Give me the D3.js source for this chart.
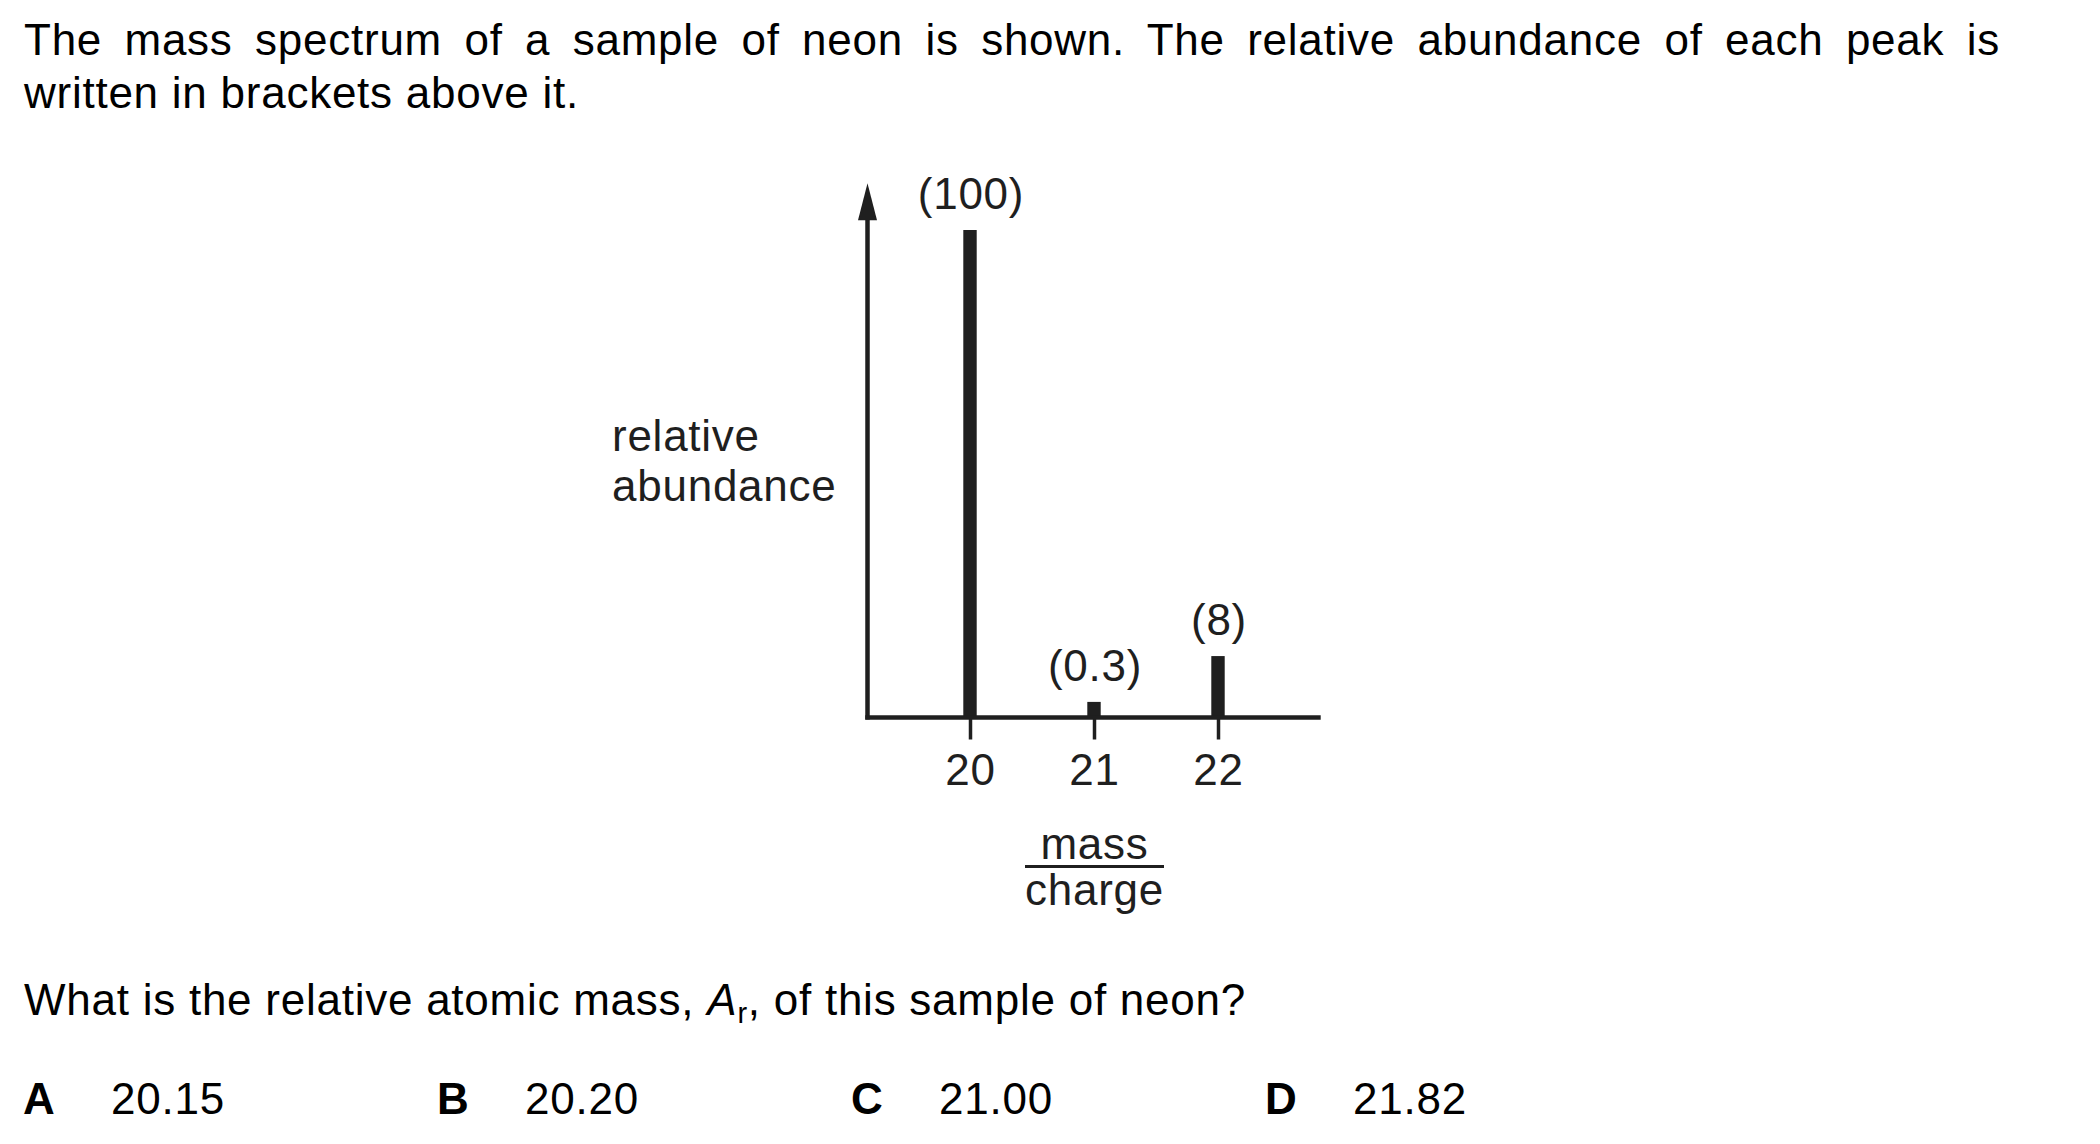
<!DOCTYPE html>
<html>
<head>
<meta charset="utf-8">
<script src="https://cdn.jsdelivr.net/npm/d3@7"></script>
<style>
  html, body { margin: 0; padding: 0; background: #fff; }
  svg { display: block; }
  text { font-family: "Liberation Sans", Arial, Helvetica, sans-serif; letter-spacing: 0.75px; }
</style>
</head>
<body>
<svg id="chart" width="2100" height="1144"></svg>
<script>
// ---- data ----
const massCharge = [20, 21, 22];
const abundance = [100, 0.3, 8];          // values written in brackets
const drawnHeight = [100, 3.2, 12.6];     // bar heights as drawn (schematic)
const tickLabels = ["20", "21", "22"];
const peakLabels = ["(100)", "(0.3)", "(8)"];
const headerLines = [
  "The mass spectrum of a sample of neon is shown. The relative abundance of each peak is",
  "written in brackets above it."
];
const yLabelLines = ["relative", "abundance"];
const optionLetters = ["A", "B", "C", "D"];
const optionValues = ["20.15", "20.20", "21.00", "21.82"];

// ---- layout ----
const svg = d3.select("#chart");
svg.append("rect").attr("width", 2100).attr("height", 1144).attr("fill", "#fff");
const FS = 44;
const ink = "#000";
const chartInk = "#1f1f1f";

// header (justified first line)
const h1 = svg.append("text").attr("x", 24).attr("y", 55)
  .attr("font-size", FS).attr("fill", ink).text(headerLines[0]);
const natural = h1.node().getComputedTextLength();
const spaces = (headerLines[0].match(/ /g) || []).length;
h1.attr("word-spacing", ((2000 - 24) - natural) / spaces);
svg.append("text").attr("x", 24).attr("y", 108)
  .attr("font-size", FS).attr("fill", ink).text(headerLines[1]);

// scales
const x = d3.scaleLinear().domain([20, 22]).range([970, 1218]);
const y = d3.scaleLinear().domain([0, 100]).range([717.5, 230]);

const g = svg.append("g");

// y axis line and arrow
const yAxisX = 867.5;
const yTop = y(109.6);
g.append("line").attr("x1", yAxisX).attr("x2", yAxisX)
  .attr("y1", y(0) + 2).attr("y2", yTop + 30)
  .attr("stroke", chartInk).attr("stroke-width", 4.5);
g.append("path")
  .attr("d", `M${yAxisX},${yTop} L${yAxisX - 9.5},${yTop + 37} L${yAxisX + 9.5},${yTop + 37} Z`)
  .attr("fill", chartInk);

// bars
g.selectAll("rect.bar").data(massCharge).enter().append("rect")
  .attr("class", "bar")
  .attr("x", d => x(d) - 6.7)
  .attr("width", 13.4)
  .attr("y", (d, i) => y(drawnHeight[i]))
  .attr("height", (d, i) => y(0) - y(drawnHeight[i]))
  .attr("fill", chartInk);

// x axis
const xAxis = d3.axisBottom(x).tickValues(massCharge)
  .tickFormat((d, i) => tickLabels[i]).tickSize(22).tickSizeOuter(0);
const ax = g.append("g").attr("transform", `translate(0,${y(0)})`).call(xAxis);
ax.select(".domain").remove();
ax.selectAll(".tick line").attr("stroke", chartInk).attr("stroke-width", 3.5);
ax.selectAll(".tick text").attr("y", 67.5).attr("dy", 0)
  .attr("font-size", FS).attr("fill", chartInk)
  .attr("font-family", '"Liberation Sans", Arial, sans-serif');
g.append("line").attr("x1", yAxisX - 2.25).attr("x2", 1320.7)
  .attr("y1", y(0)).attr("y2", y(0))
  .attr("stroke", chartInk).attr("stroke-width", 4.5);

// peak labels
g.selectAll("text.peak").data(massCharge).enter().append("text")
  .attr("class", "peak")
  .attr("x", d => x(d) + 1)
  .attr("y", (d, i) => y(drawnHeight[i]) - 21)
  .attr("text-anchor", "middle").attr("font-size", FS).attr("fill", chartInk)
  .text((d, i) => peakLabels[i]);

// y label
g.selectAll("text.ylab").data(yLabelLines).enter().append("text")
  .attr("class", "ylab")
  .attr("x", 612).attr("y", (d, i) => 451 + i * 50)
  .attr("font-size", FS).attr("fill", chartInk).text(d => d);

// x label (fraction)
const fx = 1094.5;
g.append("text").attr("x", fx).attr("y", 859).attr("text-anchor", "middle")
  .attr("font-size", FS).attr("fill", chartInk).text("mass");
g.append("line").attr("x1", 1025).attr("x2", 1164).attr("y1", 866.5).attr("y2", 866.5)
  .attr("stroke", chartInk).attr("stroke-width", 3);
g.append("text").attr("x", fx).attr("y", 905).attr("text-anchor", "middle")
  .attr("font-size", FS).attr("fill", chartInk).text("charge");

// question
const q = svg.append("text").attr("x", 24).attr("y", 1015)
  .attr("font-size", FS).attr("fill", ink);
q.append("tspan").text("What is the relative atomic mass, ");
q.append("tspan").attr("font-style", "italic").text("A");
q.append("tspan").attr("font-size", 29).attr("dy", 8).text("r");
q.append("tspan").attr("dy", -8).text(", of this sample of neon?");

// options
const optX = d3.scaleLinear().domain([0, 3]).range([23, 1265]);
svg.selectAll("text.optL").data(optionLetters).enter().append("text")
  .attr("class", "optL").attr("x", (d, i) => optX(i)).attr("y", 1114)
  .attr("font-size", FS).attr("font-weight", "bold").attr("fill", ink).text(d => d);
svg.selectAll("text.optV").data(optionValues).enter().append("text")
  .attr("class", "optV").attr("x", (d, i) => optX(i) + 88).attr("y", 1114)
  .attr("font-size", FS).attr("fill", ink).text(d => d);
</script>
</body>
</html>
